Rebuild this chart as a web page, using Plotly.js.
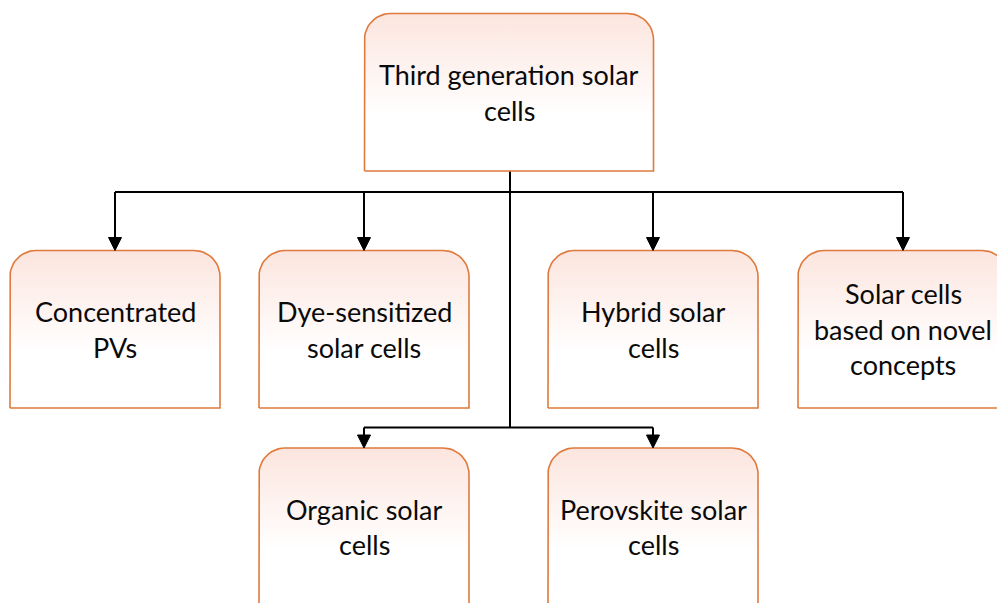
<!DOCTYPE html>
<html><head><meta charset="utf-8">
<script src="https://cdn.plot.ly/plotly-3.0.1.min.js"></script>
<style>html,body{margin:0;padding:0;background:#fff}#chart{width:997px;height:603px}</style>
</head><body><div id="chart"></div>
<script>
// Node labels
const labels = [
  "Third generation solar<br>cells",
  "Concentrated<br>PVs",
  "Dye-sensitized<br>solar cells",
  "Hybrid solar<br>cells",
  "Solar cells<br>based on novel<br>concepts",
  "Organic solar<br>cells",
  "Perovskite solar<br>cells"
];
// parent index of each node (-1 = root)
const parents = [-1, 0, 0, 0, 0, 0, 0];

// Layout (pixel space) for each node: centre x, top y
const nodeCx  = [509, 115, 364, 653, 903, 364, 653];
const nodeTop = [13.5, 250.5, 250.5, 250.5, 250.5, 448, 448];
const boxW = [289, 210, 210, 210, 210, 210, 210];
const boxH = [157.5, 157.5, 157.5, 157.5, 157.5, 157.5, 157.5];
const radius = 26;
const lineGap = 35.5;
const busY = 192;      // upper bus line
const lowBusY = 427.5; // lower bus line
const trunkX = 510;

const BORDER = '#e07a3c';
const traces = [];
const shapes = [];
const annotations = [];

function roundedTopBox(cx, top, w, h, r){
  const xs=[], ys=[];
  const l = cx - w/2, rt = cx + w/2, b = top + h;
  xs.push(l); ys.push(b);
  xs.push(l); ys.push(top + r);
  for(let i=0;i<=12;i++){const a=Math.PI + i*(Math.PI/2)/12; xs.push(l+r+r*Math.cos(a)); ys.push(top+r+r*Math.sin(a));}
  xs.push(rt - r); ys.push(top);
  for(let i=0;i<=12;i++){const a=1.5*Math.PI + i*(Math.PI/2)/12; xs.push(rt-r+r*Math.cos(a)); ys.push(top+r+r*Math.sin(a));}
  xs.push(rt); ys.push(b);
  xs.push(l); ys.push(b);
  return {xs, ys};
}

labels.forEach((lab, i) => {
  const p = roundedTopBox(nodeCx[i], nodeTop[i], boxW[i], boxH[i], radius);
  traces.push({
    type:'scatter', mode:'lines', x:p.xs, y:p.ys, fill:'toself',
    fillgradient:{type:'vertical', colorscale:[[0,'#ffffff'],[0.35,'#ffffff'],[1,'#fce5de']]},
    line:{color:BORDER, width:1.6}, hoverinfo:'skip', showlegend:false
  });
  const lines = lab.split('<br>');
  const cy = nodeTop[i] + boxH[i]/2;
  lines.forEach((t, k) => {
    annotations.push({
      x: nodeCx[i], y: cy + (k - (lines.length-1)/2)*lineGap, xref:'x', yref:'y',
      text: t, showarrow:false, xanchor:'center', yanchor:'middle',
      font:{family:'Lato, Carlito, sans-serif', size:27, color:'#0a0a0a'}
    });
  });
});

// connectors
const L = {color:'#000', width:2};
const firstRow = [1,2,3,4], secondRow = [5,6];
shapes.push({type:'line', x0:trunkX, x1:trunkX, y0:nodeTop[0]+boxH[0], y1:lowBusY, line:L, layer:'below'});
shapes.push({type:'line', x0:nodeCx[1], x1:nodeCx[4], y0:busY, y1:busY, line:L, layer:'below'});
shapes.push({type:'line', x0:nodeCx[5], x1:nodeCx[6], y0:lowBusY, y1:lowBusY, line:L, layer:'below'});
function arrow(x, yFrom, yTo){
  shapes.push({type:'line', x0:x, x1:x, y0:yFrom, y1:yTo-12, line:L});
  shapes.push({type:'path', path:`M ${x-6.5} ${yTo-13} L ${x+6.5} ${yTo-13} L ${x} ${yTo} Z`, fillcolor:'#000', line:{color:'#000', width:1}});
}
firstRow.forEach(i => arrow(nodeCx[i], busY, nodeTop[i]));
secondRow.forEach(i => arrow(nodeCx[i], lowBusY, nodeTop[i]));

Plotly.newPlot('chart', traces, {
  width:997, height:603, margin:{l:0,r:0,t:0,b:0},
  paper_bgcolor:'#fff', plot_bgcolor:'#fff',
  xaxis:{range:[0,997], visible:false, fixedrange:true},
  yaxis:{range:[603,0], visible:false, fixedrange:true},
  shapes, annotations, showlegend:false, hovermode:false
}, {displayModeBar:false, staticPlot:true});
</script></body></html>
